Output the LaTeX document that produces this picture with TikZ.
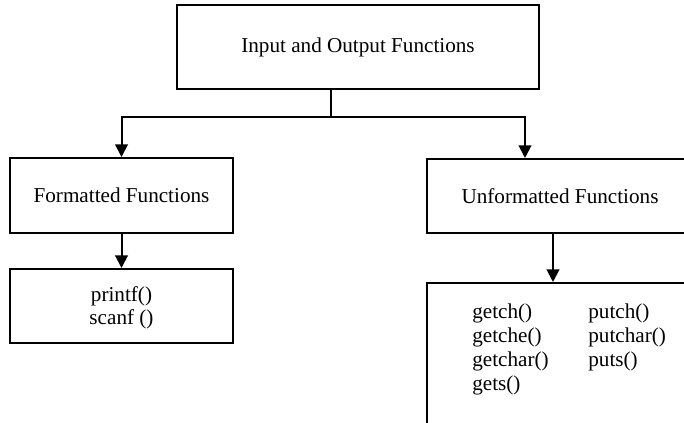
\documentclass[tikz,border=0pt]{standalone}
\usepackage{fontspec}
\setmainfont{Liberation Serif}
\usetikzlibrary{arrows.meta}
\begin{document}
\begin{tikzpicture}[x=0.6pt,y=-0.6pt,
  box/.style={draw,line width=1.2pt,rectangle,inner sep=0pt,font=\fontsize{12.7}{14}\selectfont},
  conn/.style={line width=1.2pt},
  arr/.style={line width=1.2pt,-{Triangle[width=7.5pt,length=7.5pt]}},
  item/.style={anchor=base west,inner sep=0pt,font=\fontsize{12.7}{14}\selectfont}]
\useasboundingbox (0,0) rectangle (684,423);
\clip (0,0) rectangle (684,423);
% boxes
\node[box,minimum width=217.2pt,minimum height=50.4pt] (top) at (358,47) {Input and Output Functions};
\node[box,minimum width=133.8pt,minimum height=45pt] (fmt) at (121.5,195.5) {Formatted Functions};
\node[box,minimum width=159.6pt,minimum height=44.4pt] (unf) at (560,196) {Unformatted Functions};
\node[box,minimum width=133.8pt,minimum height=44.4pt,align=center] (pf) at (121.5,306) {};
\node[box,minimum width=159.6pt,minimum height=120pt,anchor=north] (lst) at (560,282) {};
% texts in lower left box
\node[item,anchor=base] (p1) at (121.5,302) {printf()};
\node[item,anchor=base] (p2) at (121.5,325) {scanf ()};
% texts in lower right box
\node[item] (g1) at (472,319) {getch()};
\node[item] (g2) at (472,343) {getche()};
\node[item] (g3) at (472,367) {getchar()};
\node[item] (g4) at (472,391) {gets()};
\node[item] (u1) at (588,319) {putch()};
\node[item] (u2) at (588,343) {putchar()};
\node[item] (u3) at (588,367) {puts()};
% connectors
\coordinate (j) at (331,117);
\coordinate (jl) at (121.5,117);
\coordinate (jr) at (525,117);
\coordinate (ua) at (553,233);
\draw[conn] (top.south -| j) -- (j);
\draw[arr] (j) -- (jl) -- (fmt.north);
\draw[arr] (j) -- (jr) -- (unf.north -| jr);
\draw[arr] (fmt.south) -- (pf.north);
\draw[arr] (unf.south -| ua) -- (lst.north -| ua);
\end{tikzpicture}
\end{document}
